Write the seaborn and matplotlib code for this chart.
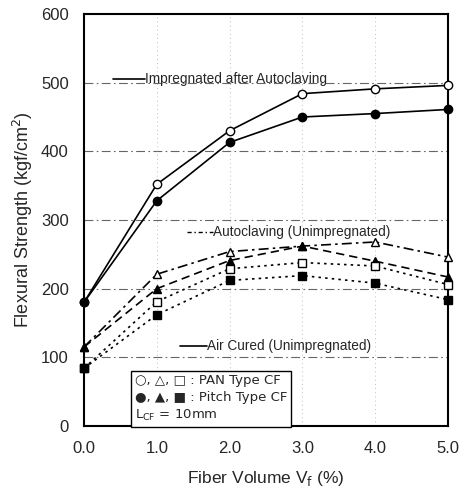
import pandas as pd
import seaborn as sns
import matplotlib.pyplot as plt

# Fiber volume (%)
vf = [0.0, 1.0, 2.0, 3.0, 4.0, 5.0]

# Flexural strength (kgf/cm2)
impreg_pan = [180, 352, 430, 484, 491, 496]
impreg_pitch = [180, 328, 413, 450, 455, 461]
autoclave_pan = [115, 221, 254, 262, 268, 246]
autoclave_pitch = [115, 200, 241, 262, 240, 217]
air_pan = [84, 181, 229, 238, 233, 206]
air_pitch = [84, 162, 212, 219, 208, 184]

x_ticks = [0, 1, 2, 3, 4, 5]
x_labels = ["0.0", "1.0", "2.0", "3.0", "4.0", "5.0"]
y_ticks = [0, 100, 200, 300, 400, 500, 600]

series = [
    ("Impregnated PAN", impreg_pan, "o", False, "-"),
    ("Impregnated Pitch", impreg_pitch, "o", True, "-"),
    ("Autoclaving PAN", autoclave_pan, "^", False, (0, (6, 2.5, 1.5, 2.5))),
    ("Autoclaving Pitch", autoclave_pitch, "^", True, (0, (5, 3))),
    ("Air PAN", air_pan, "s", False, (0, (1.5, 2.5))),
    ("Air Pitch", air_pitch, "s", True, (0, (1.5, 2.5))),
]

rows = []
for name, vals, *_ in series:
    for x, y in zip(vf, vals):
        rows.append({"series": name, "vf": x, "strength": y})
df = pd.DataFrame(rows)

sns.set_style("white")
plt.rcParams["font.family"] = ["Liberation Sans", "DejaVu Sans"]

fig = plt.figure(figsize=(4.64, 4.91), dpi=100)
ax = fig.add_axes([0.181, 0.1324, 0.7845, 0.8391])

# grid lines
for yv in [100, 200, 300, 400, 500]:
    ax.axhline(yv, color="#666666", lw=0.8, ls=(0, (8, 3, 1.5, 3)), zorder=0)
for xv in [1, 2, 3, 4]:
    ax.axvline(xv, color="#aaaaaa", lw=0.6, ls=(0, (1, 4)), zorder=0)

for name, vals, mk, filled, ls in series:
    sub = df[df["series"] == name]
    sns.lineplot(data=sub, x="vf", y="strength", ax=ax, color="black",
                 lw=1.2, linestyle=ls, marker=mk, markersize=6,
                 markerfacecolor="black" if filled else "white",
                 markeredgecolor="black", markeredgewidth=1.0,
                 clip_on=False, zorder=3)

# annotations with line keys
ax.plot([0.4, 0.84], [505, 505], color="black", lw=1.2)
ax.text(0.84, 505, "Impregnated after Autoclaving", fontsize=9.8,
        va="center", ha="left")
ax.plot([1.41, 1.77], [283, 283], color="black", lw=1.0,
        ls=(0, (3, 2, 1, 2)))
ax.text(1.77, 283, "Autoclaving (Unimpregnated)", fontsize=9.8,
        va="center", ha="left")
ax.plot([1.32, 1.69], [117, 117], color="black", lw=1.2)
ax.text(1.69, 117, "Air Cured (Unimpregnated)", fontsize=9.8,
        va="center", ha="left")

# marker key box
ax.text(0.14, 0.008,
        "○, △, □ : PAN Type CF\n●, ▲, ■ : Pitch Type CF\nL$_{\\rm CF}$ = 10mm",
        transform=ax.transAxes, fontsize=9.5, va="bottom", ha="left",
        linespacing=1.35, family=["DejaVu Sans"],
        bbox=dict(boxstyle="square,pad=0.3", fc="white", ec="black", lw=1.0),
        zorder=5)

ax.set_xlim(0, 5)
ax.set_ylim(0, 600)
ax.set_xticks(x_ticks)
ax.set_xticklabels(x_labels)
ax.set_yticks(y_ticks)
ax.tick_params(labelsize=12, length=0, pad=11)
ax.set_xlabel("Fiber Volume V$_{\\rm f}$ (%)", fontsize=12.5, labelpad=9)
ax.set_ylabel("Flexural Strength (kgf/cm$^2$)", fontsize=13, labelpad=4)

for sp in ax.spines.values():
    sp.set_visible(True)
    sp.set_color("black")
    sp.set_linewidth(1.5)

plt.savefig("out.png", dpi=100)
